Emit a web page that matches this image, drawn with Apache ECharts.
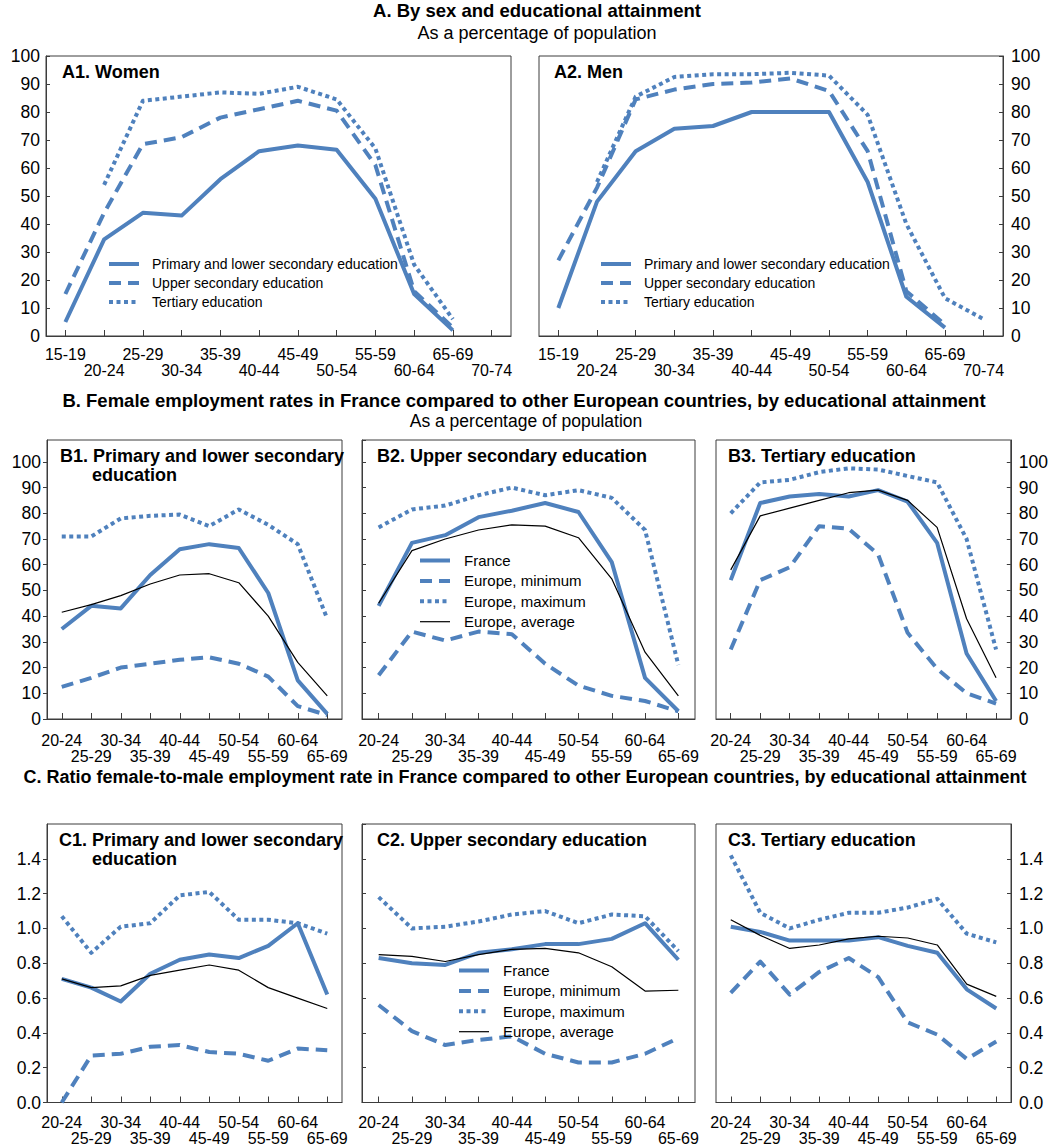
<!DOCTYPE html>
<html>
<head>
<meta charset="utf-8">
<script src="https://cdn.jsdelivr.net/npm/echarts@6/dist/echarts.min.js"></script>
<style>
html,body{margin:0;padding:0;background:#fff;}
#chart{width:1051px;height:1146px;}
</style>
</head>
<body>
<div id="chart"></div>
<script>
// ---------- Data ----------
const agesA = ['15-19','20-24','25-29','30-34','35-39','40-44','45-49','50-54','55-59','60-64','65-69','70-74'];
const agesBC = ['20-24','25-29','30-34','35-39','40-44','45-49','50-54','55-59','60-64','65-69'];

const seriesNamesA = ['Primary and lower secondary education','Upper secondary education','Tertiary education'];
const seriesNamesBC = ['France','Europe, minimum','Europe, maximum','Europe, average'];

// A1 Women
const womenPrimary  = [5, 34.5, 44, 43, 56, 66, 68, 66.5, 49, 15, 2, null];
const womenUpper    = [15, 44, 68.5, 71, 78, 81, 84, 80.5, 61, 16, 3, null];
const womenTertiary = [null, 54, 84, 85.5, 87, 86.5, 89, 84.5, 67, 25.5, 6, null];
// A2 Men
const menPrimary  = [10, 48, 66, 74, 75, 80, 80, 80, 55, 14, 3, null];
const menUpper    = [27, 53, 84.5, 88, 90, 90.5, 92, 87.5, 66, 16, 4, null];
const menTertiary = [null, 55, 85.5, 92.5, 93.5, 93.5, 94, 93, 79, 40, 13.5, 6];

// B1 Primary and lower secondary
const b1France = [35, 44, 43, 56, 66, 68, 66.5, 49, 15, 2];
const b1Min    = [12.5, 16, 20, 21.5, 23, 24, 21.5, 16.5, 5, 1.5];
const b1Max    = [71, 71, 78, 79, 79.5, 75, 81.5, 75.5, 68, 39];
const b1Avg    = [41.5, 44.5, 48, 52.5, 56, 56.5, 53, 40, 22, 9];
// B2 Upper secondary
const b2France = [44, 68.5, 71.5, 78.5, 81, 84, 80.5, 61, 16, 3];
const b2Min    = [17, 34, 30.5, 34, 33, 21.5, 13, 9, 7, 3];
const b2Max    = [74.5, 81.5, 83, 87, 90, 87, 89, 86, 73.5, 21];
const b2Avg    = [45, 65.5, 70, 73.5, 75.5, 75, 70.5, 54.5, 26, 9];
// B3 Tertiary
const b3France = [54, 84, 86.5, 87.5, 86.5, 89, 84.5, 68.5, 25.5, 7];
const b3Min    = [27, 54, 59, 75, 74, 64, 33.5, 19.5, 10, 6];
const b3Max    = [80, 92, 93, 96, 97.5, 97, 94.5, 92, 70, 27];
const b3Avg    = [58, 79, 82, 85, 88, 89, 85, 74.5, 39, 16];

// C1 Primary and lower secondary (ratio)
const c1France = [0.71, 0.66, 0.58, 0.74, 0.82, 0.85, 0.83, 0.90, 1.03, 0.62];
const c1Min    = [0.00, 0.27, 0.28, 0.32, 0.33, 0.29, 0.28, 0.24, 0.31, 0.30];
const c1Max    = [1.07, 0.86, 1.01, 1.03, 1.19, 1.21, 1.05, 1.05, 1.03, 0.97];
const c1Avg    = [0.71, 0.66, 0.67, 0.73, 0.76, 0.79, 0.76, 0.66, 0.60, 0.54];
// C2 Upper secondary
const c2France = [0.83, 0.80, 0.79, 0.86, 0.88, 0.91, 0.91, 0.94, 1.03, 0.82];
const c2Min    = [0.56, 0.41, 0.33, 0.36, 0.38, 0.28, 0.23, 0.23, 0.28, 0.37];
const c2Max    = [1.18, 1.00, 1.01, 1.04, 1.08, 1.10, 1.03, 1.08, 1.07, 0.87];
const c2Avg    = [0.85, 0.84, 0.81, 0.85, 0.88, 0.885, 0.86, 0.78, 0.64, 0.645];
// C3 Tertiary
const c3France = [1.01, 0.98, 0.93, 0.93, 0.93, 0.95, 0.90, 0.86, 0.65, 0.54];
const c3Min    = [0.63, 0.81, 0.62, 0.75, 0.83, 0.72, 0.46, 0.39, 0.25, 0.35];
const c3Max    = [1.42, 1.09, 1.00, 1.05, 1.09, 1.09, 1.12, 1.17, 0.97, 0.92];
const c3Avg    = [1.05, 0.96, 0.885, 0.905, 0.94, 0.955, 0.945, 0.905, 0.68, 0.61];

// ---------- Styling ----------
const BLUE = '#4F81BD';
const FRAME = '#3c3c3c';
const FF = '"Liberation Sans", Arial, sans-serif';
const YTICK_FS = 17.5;
const XTICK_FS = 16;

const grids = [
  {left: 46,  top: 56,  width: 465, height: 280}, // A1
  {left: 539, top: 56,  width: 464, height: 280}, // A2
  {left: 47,  top: 440, width: 295, height: 279}, // B1
  {left: 362, top: 440, width: 333, height: 279}, // B2
  {left: 716, top: 440, width: 295, height: 279}, // B3
  {left: 47,  top: 824, width: 295, height: 279}, // C1
  {left: 362, top: 824, width: 333, height: 279}, // C2
  {left: 716, top: 824, width: 295, height: 279}  // C3
].map(g => Object.assign({show: true, borderColor: FRAME, borderWidth: 1, backgroundColor: 'transparent'}, g));

function xAx(gi, cats, margin) {
  return {
    type: 'category', gridIndex: gi, data: cats, boundaryGap: true,
    axisLine: {show: true, lineStyle: {color: FRAME, width: 1}},
    axisTick: {show: true, inside: true, length: 6, alignWithLabel: true, lineStyle: {color: FRAME}},
    axisLabel: {interval: 0, fontSize: XTICK_FS, color: '#000', fontFamily: FF, lineHeight: 16, margin: margin,
      formatter: (v, i) => (i % 2 ? '\n' + v : v)},
    splitLine: {show: false}
  };
}

function yAx(gi, opts) {
  return {
    type: 'value', gridIndex: gi, position: opts.position || 'left',
    min: opts.min, max: opts.max, interval: opts.interval,
    axisLine: {show: true, lineStyle: {color: FRAME, width: 1}},
    axisTick: {show: true, inside: opts.tickInside !== false, length: 4, lineStyle: {color: FRAME}},
    axisLabel: {show: opts.labels !== false, fontSize: YTICK_FS, color: '#000', fontFamily: FF, margin: opts.margin || 6,
      showMaxLabel: opts.hideMax ? false : true,
      formatter: opts.fmt || (v => String(v))},
    splitLine: {show: false}
  };
}

function ln(name, data, kind, idx) {
  const s = {type: 'line', name: name, data: data, xAxisIndex: idx, yAxisIndex: idx,
    symbol: 'none', showSymbol: false, connectNulls: false, silent: true, animation: false};
  if (kind === 'avg') {
    s.color = '#000';
    s.lineStyle = {color: '#000', width: 1.2, type: 'solid'};
  } else {
    s.color = BLUE;
    const t = kind === 'solid' ? 'solid' : (kind === 'dash' ? [12, 7] : [4, 3.5]);
    s.lineStyle = {color: BLUE, width: 4, type: t, cap: 'butt', join: 'round'};
  }
  s.itemStyle = {color: s.color};
  return s;
}

const fmt1 = v => v.toFixed(1);

const xAxes = [
  xAx(0, agesA, 10), xAx(1, agesA, 10),
  xAx(2, agesBC, 13), xAx(3, agesBC, 13), xAx(4, agesBC, 13),
  xAx(5, agesBC, 11.5), xAx(6, agesBC, 11.5), xAx(7, agesBC, 11.5)
];
const yAxes = [
  yAx(0, {min: 0, max: 100, interval: 10, margin: 6}),
  yAx(1, {min: 0, max: 100, interval: 10, position: 'right', margin: 8}),
  yAx(2, {min: 0, max: 108.5, interval: 10, hideMax: true, tickInside: false, margin: 6}),
  yAx(3, {min: 0, max: 108.5, interval: 10, hideMax: true, labels: false}),
  yAx(4, {min: 0, max: 108.5, interval: 10, hideMax: true, position: 'right', margin: 8}),
  yAx(5, {min: 0, max: 1.6, interval: 0.2, hideMax: true, tickInside: false, margin: 6, fmt: fmt1}),
  yAx(6, {min: 0, max: 1.6, interval: 0.2, hideMax: true, labels: false, fmt: fmt1}),
  yAx(7, {min: 0, max: 1.6, interval: 0.2, hideMax: true, position: 'right', margin: 8, fmt: fmt1})
];

const series = [
  ln(seriesNamesA[0], womenPrimary, 'solid', 0),
  ln(seriesNamesA[1], womenUpper, 'dash', 0),
  ln(seriesNamesA[2], womenTertiary, 'dot', 0),
  ln(seriesNamesA[0], menPrimary, 'solid', 1),
  ln(seriesNamesA[1], menUpper, 'dash', 1),
  ln(seriesNamesA[2], menTertiary, 'dot', 1)
];
const bc = [
  [b1France, b1Min, b1Max, b1Avg],
  [b2France, b2Min, b2Max, b2Avg],
  [b3France, b3Min, b3Max, b3Avg],
  [c1France, c1Min, c1Max, c1Avg],
  [c2France, c2Min, c2Max, c2Avg],
  [c3France, c3Min, c3Max, c3Avg]
];
bc.forEach((arr, k) => {
  const idx = k + 2;
  series.push(ln(seriesNamesBC[1], arr[1], 'dash', idx));
  series.push(ln(seriesNamesBC[2], arr[2], 'dot', idx));
  series.push(ln(seriesNamesBC[0], arr[0], 'solid', idx));
  series.push(ln(seriesNamesBC[3], arr[3], 'avg', idx));
});

function legendAt(left, top, names, gap, pad, fs) {
  return {
    orient: 'vertical', left: left, top: top, padding: 0,
    itemWidth: 30, itemHeight: 14, itemGap: gap, selectedMode: false,
    itemStyle: {opacity: 0, borderWidth: 0},
    data: names.map(n => ({name: n, lineStyle: {width: n === 'Europe, average' ? 1.2 : 4}})),
    textStyle: {fontSize: fs, fontFamily: FF, color: '#000', lineHeight: 14, padding: [0, 0, 0, pad]}
  };
}
const legends = [
  legendAt(107, 257, seriesNamesA, 5.0, 8, 14),
  legendAt(599, 257, seriesNamesA, 5.0, 8, 14),
  legendAt(418, 553, seriesNamesBC, 5.4, 9, 15),
  legendAt(457, 963, seriesNamesBC, 5.4, 9, 15)
];

function txt(x, y, s, o) {
  return {type: 'text', x: x, y: y, silent: true,
    style: Object.assign({text: s, fontFamily: FF, fontSize: 18, fontWeight: 'bold', fill: '#000',
      align: 'left', verticalAlign: 'middle'}, o || {})};
}
const graphics = [
  txt(537, 10, 'A. By sex and educational attainment', {align: 'center', fontSize: 18.5}),
  txt(537, 33, 'As a percentage of population', {align: 'center', fontWeight: 'normal'}),
  txt(62, 72, 'A1. Women'),
  txt(554, 72, 'A2. Men'),
  txt(524, 400, 'B. Female employment rates in France compared to other European countries, by educational attainment', {align: 'center', fontSize: 18.5}),
  txt(526, 421, 'As a percentage of population', {align: 'center', fontWeight: 'normal', fontSize: 17.5}),
  txt(60, 456, 'B1. Primary and lower secondary'),
  txt(92, 475, 'education'),
  txt(377, 456, 'B2. Upper secondary education'),
  txt(728, 456, 'B3. Tertiary education'),
  txt(525, 777, 'C. Ratio female-to-male employment rate in France compared to other European countries, by educational attainment', {align: 'center', fontSize: 18}),
  txt(59, 840, 'C1. Primary and lower secondary'),
  txt(92, 859, 'education'),
  txt(377, 840, 'C2. Upper secondary education'),
  txt(728, 840, 'C3. Tertiary education')
];

const chart = echarts.init(document.getElementById('chart'), null, {renderer: 'svg'});
chart.setOption({
  animation: false,
  backgroundColor: '#fff',
  textStyle: {fontFamily: FF},
  grid: grids,
  xAxis: xAxes,
  yAxis: yAxes,
  legend: legends,
  series: series,
  graphic: graphics
});
</script>
</body>
</html>
